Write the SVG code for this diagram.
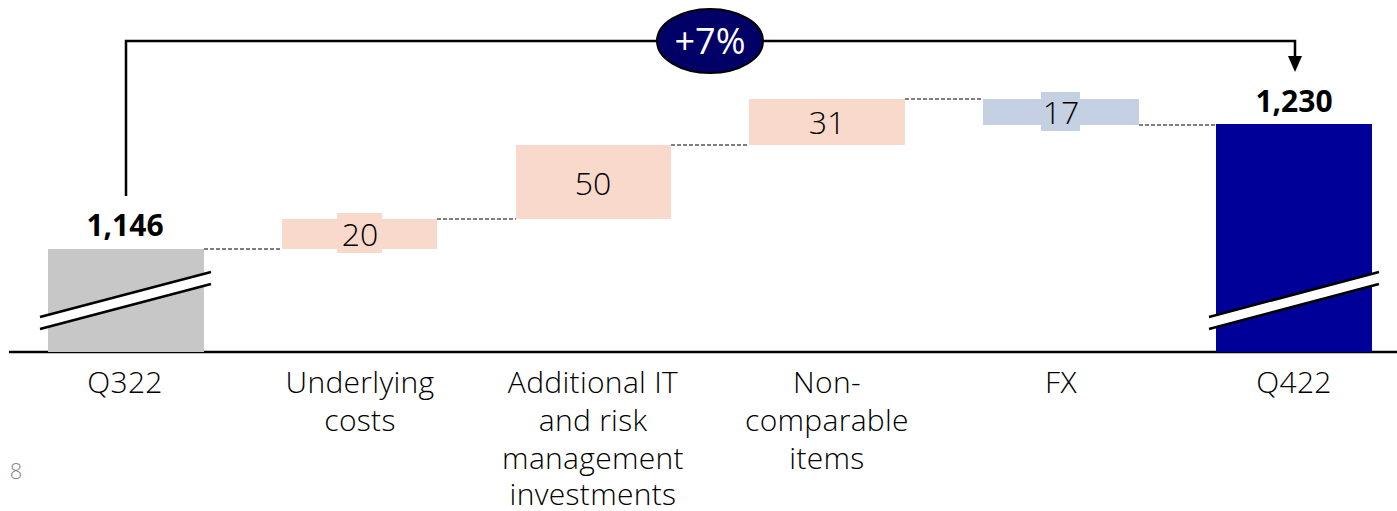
<svg xmlns="http://www.w3.org/2000/svg" width="1397" height="511" viewBox="0 0 1397 511">
<style>
.cat{font-family:"Open Sans","Noto Sans","Liberation Sans",sans-serif;font-weight:300;font-size:30px;letter-spacing:0.3px;fill:#000;text-anchor:middle}
.val{font-family:"Open Sans","Noto Sans","Liberation Sans",sans-serif;font-weight:300;font-size:32px;fill:#000;text-anchor:middle}
.tot{font-family:"Open Sans","Noto Sans","Liberation Sans",sans-serif;font-weight:700;font-size:30px;fill:#000;text-anchor:middle}
.dash{stroke:#555;stroke-width:1.3;stroke-dasharray:4 2;fill:none}
.brk{stroke:#000;stroke-width:2.5;fill:none}
.pink{fill:#f9d9cb}
.blue{fill:#c5d0e2}
</style>
<rect width="1397" height="511" fill="#fff"/>
<g id="connectors">
<path d="M126,196 V41 H1295 V56" stroke="#000" stroke-width="2.5" fill="none"/>
<path d="M1288,56 L1302,56 L1295,72 Z" fill="#000"/>
<line class="dash" x1="204" y1="249" x2="282" y2="249"/>
<line class="dash" x1="437" y1="219" x2="516" y2="219"/>
<line class="dash" x1="671" y1="145" x2="749" y2="145"/>
<line class="dash" x1="905" y1="99" x2="983" y2="99"/>
<line class="dash" x1="1139" y1="125" x2="1216" y2="125"/>
</g>
<g id="axis">
<line x1="9" y1="352" x2="1397" y2="352" stroke="#000" stroke-width="2.5"/>
</g>
<g id="q322">
<rect x="48" y="249" width="156" height="103" fill="#c8c7c8"/>
<path d="M40,323 L211,278" stroke="#fff" stroke-width="11"/>
<path class="brk" d="M40,317 L211,272 M40,329 L211,284"/>
<text class="tot" x="125" y="236">1,146</text>
<text class="cat" x="125" y="393">Q322</text>
</g>
<g id="underlying">
<rect class="pink" x="282" y="219" width="155" height="30"/>
<rect class="pink" x="337" y="213" width="45" height="40"/>
<text class="val" x="360" y="246">20</text>
<text class="cat" x="360" y="393">Underlying</text>
<text class="cat" x="360" y="431">costs</text>
</g>
<g id="additional">
<rect class="pink" x="516" y="145" width="155" height="74"/>
<text class="val" x="593" y="195">50</text>
<text class="cat" x="593" y="393">Additional IT</text>
<text class="cat" x="593" y="431">and risk</text>
<text class="cat" x="593" y="469">management</text>
<text class="cat" x="593" y="505">investments</text>
</g>
<g id="noncomparable">
<rect class="pink" x="749" y="99" width="156" height="46"/>
<text class="val" x="827" y="134">31</text>
<text class="cat" x="827" y="393">Non-</text>
<text class="cat" x="827" y="431">comparable</text>
<text class="cat" x="827" y="469">items</text>
</g>
<g id="fx">
<rect class="blue" x="983" y="99" width="156" height="26"/>
<rect class="blue" x="1041" y="92" width="39" height="39"/>
<text class="val" x="1061" y="124">17</text>
<text class="cat" x="1061" y="393">FX</text>
</g>
<g id="q422">
<rect x="1216" y="124" width="156" height="228" fill="#000099"/>
<path d="M1209,323 L1379,278" stroke="#fff" stroke-width="11"/>
<path class="brk" d="M1209,317 L1379,272 M1209,329 L1379,284"/>
<text class="tot" x="1294" y="112">1,230</text>
<text class="cat" x="1294" y="393">Q422</text>
</g>
<g id="growth">
<ellipse cx="710" cy="41" rx="53" ry="32" fill="#000066" stroke="#000" stroke-width="2"/>
<text x="710" y="54" font-family="Open Sans,Noto Sans,Liberation Sans,sans-serif" font-size="36" fill="#fff" text-anchor="middle">+7%</text>
</g>
<text x="16" y="479" font-family="Open Sans,Noto Sans,Liberation Sans,sans-serif" font-weight="300" font-size="22" fill="#888" text-anchor="middle">8</text>
</svg>
